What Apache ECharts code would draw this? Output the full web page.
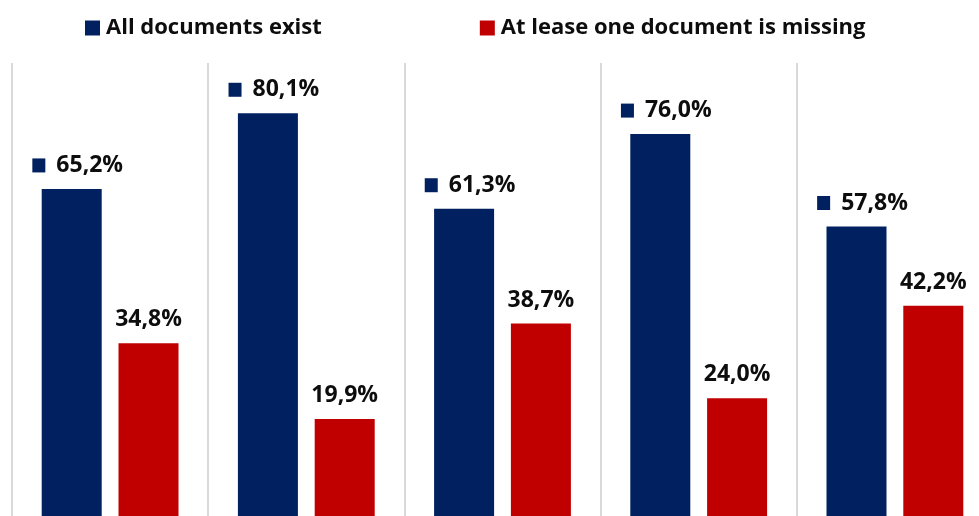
<!DOCTYPE html>
<html>
<head>
<meta charset="utf-8">
<script src="https://cdn.jsdelivr.net/npm/echarts@6/dist/echarts.min.js"></script>
<style>
  html, body { margin: 0; padding: 0; background: #fff; overflow: hidden; }
  #chart { width: 979px; height: 516px; }
</style>
</head>
<body>
<div id="chart"></div>
<script>
// Share of cases per group, in percent
const categories = ['1', '2', '3', '4', '5'];
const seriesNames = ['All documents exist', 'At lease one document is missing'];
const allExist = [65.2, 80.1, 61.3, 76.0, 57.8];
const oneMissing = [34.8, 19.9, 38.7, 24.0, 42.2];

const BLUE = '#002060';
const RED = '#C00000';
const FONT = '"Open Sans", Lato, sans-serif';

const fmt = v => v.toFixed(1).replace('.', ',') + '%';

const chart = echarts.init(document.getElementById('chart'), null, { renderer: 'canvas' });

chart.setOption({
  animation: false,
  backgroundColor: '#ffffff',
  textStyle: { fontFamily: FONT },
  legend: {
    left: 85,
    top: 17,
    padding: 0,
    icon: 'rect',
    itemWidth: 15,
    itemHeight: 15,
    itemGap: 158,
    textStyle: { fontFamily: FONT, fontSize: 22, fontWeight: 'bold', color: '#0d0d0d', padding: [0, 0, 0, 1] },
    data: seriesNames
  },
  // plot area runs past the right edge of the page
  grid: { left: 12, width: 981, top: 63, bottom: -4, containLabel: false, outerBoundsMode: 'none' },
  xAxis: {
    type: 'category',
    data: categories,
    axisLine: { show: false },
    axisTick: { show: false },
    axisLabel: { show: false },
    splitLine: { show: true, lineStyle: { color: '#d9d9d9', width: 2 } }
  },
  yAxis: {
    type: 'value',
    min: 0,
    max: 90,
    show: false,
    splitLine: { show: false }
  },
  series: [
    {
      name: seriesNames[0],
      type: 'bar',
      data: allExist,
      barWidth: 60,
      barGap: '28%',
      itemStyle: { color: BLUE },
      label: {
        show: true,
        position: 'top',
        distance: 12,
        offset: [6, 0],
        formatter: p => '{m|}{s|}{v|' + fmt(p.value) + '}',
        rich: {
          m: { width: 13, height: 14, backgroundColor: BLUE },
          s: { width: 11 },
          v: { fontFamily: FONT, fontSize: 23, fontWeight: 'bold', color: '#0d0d0d' }
        }
      }
    },
    {
      name: seriesNames[1],
      type: 'bar',
      data: oneMissing,
      barWidth: 60,
      itemStyle: { color: RED },
      label: {
        show: true,
        position: 'top',
        distance: 12,
        formatter: p => fmt(p.value),
        fontFamily: FONT,
        fontSize: 23,
        fontWeight: 'bold',
        color: '#0d0d0d'
      }
    }
  ]
});
</script>
</body>
</html>
